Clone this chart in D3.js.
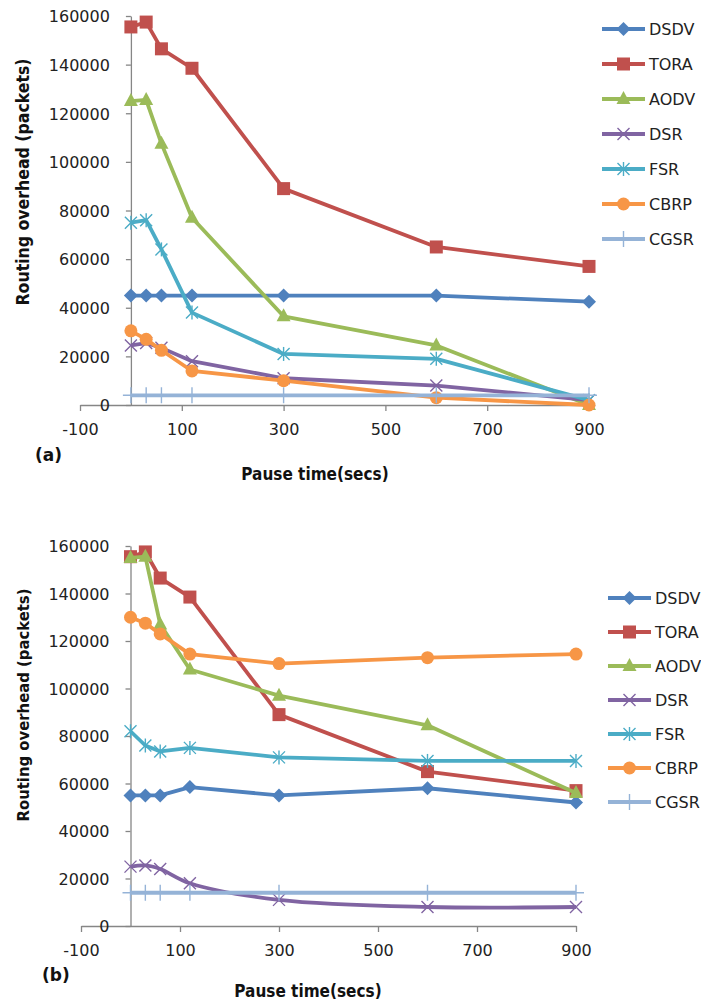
<!DOCTYPE html>
<html>
<head>
<meta charset="utf-8">
<script src="https://cdnjs.cloudflare.com/ajax/libs/d3/7.8.5/d3.min.js"></script>
<style>
  body { margin: 0; background: #fff; }
  .tick text { font-family: "DejaVu Sans", sans-serif; font-size: 16px; fill: #222; }
  .axis path, .axis line { stroke: #868686; stroke-width: 1.3; }
  .title { font-family: "DejaVu Sans Condensed", "DejaVu Sans", sans-serif; font-weight: bold; fill: #111; }
  .legend text { font-family: "DejaVu Sans", sans-serif; font-size: 16px; fill: #222; }
</style>
</head>
<body>
<script>
// pause times (secs) shared by every series
const pauseTimes = [0, 30, 60, 120, 300, 600, 900];
const protocols = ["DSDV", "TORA", "AODV", "DSR", "FSR", "CBRP", "CGSR"];
const xTicks = [-100, 100, 300, 500, 700, 900];
const yTicks = [0, 20000, 40000, 60000, 80000, 100000, 120000, 140000, 160000];

// panel (a)
const dsdvA = [45000, 45000, 45000, 45000, 45000, 45000, 42500];
const toraA = [155500, 157500, 146500, 138500, 89000, 65000, 57000];
const aodvA = [125000, 125500, 107500, 77000, 36500, 24500, 0];
const dsrA  = [24500, 25500, 23500, 18000, 11000, 8000, 2000];
const fsrA  = [75000, 76000, 64000, 38000, 21000, 19000, 2000];
const cbrpA = [30500, 27000, 22500, 14000, 10000, 3000, 0];
const cgsrA = [4000, 4000, 4000, 4000, 4000, 4000, 4000];

// panel (b)
const dsdvB = [55000, 55000, 55000, 58500, 55000, 58000, 52000];
const toraB = [155500, 157500, 146500, 138500, 89000, 65000, 57000];
const aodvB = [155000, 155500, 127000, 108000, 97000, 84500, 56000];
const dsrB  = [25000, 25500, 24000, 18000, 11000, 8000, 8000];
const fsrB  = [82000, 76000, 73500, 75000, 71000, 69500, 69500];
const cbrpB = [130000, 127500, 123000, 114500, 110500, 113000, 114500];
const cgsrB = [14000, 14000, 14000, 14000, 14000, 14000, 14000];

const colors = ["#4F81BD", "#C0504D", "#9BBB59", "#8064A2", "#4BACC6", "#F79646", "#95B3D7"];
const markers = ["diamond", "square", "triangle", "cross", "star", "circle", "plus"];

var svg = d3.select("body").append("svg")
    .attr("width", 701)
    .attr("height", 1005);

function drawMarker(g, type, color) {
  if (type == "diamond") {
    g.append("path").attr("d", "M0,-7L7,0L0,7L-7,0Z").attr("fill", color);
  } else if (type == "square") {
    g.append("rect").attr("x", -6.5).attr("y", -6.5).attr("width", 13).attr("height", 13).attr("fill", color);
  } else if (type == "triangle") {
    g.append("path").attr("d", "M0,-8L7,5L-7,5Z").attr("fill", color);
  } else if (type == "circle") {
    g.append("circle").attr("r", 6.5).attr("fill", color);
  } else if (type == "cross" || type == "star") {
    g.append("path").attr("d", "M-6,-6L6,6M-6,6L6,-6")
      .attr("stroke", color).attr("stroke-width", 1.4).attr("fill", "none");
    if (type == "star") {
      g.append("path").attr("d", "M0,-7L0,7").attr("stroke", color).attr("stroke-width", 1.4);
    }
  } else if (type == "plus") {
    g.append("path").attr("d", "M0,-8L0,8M-8,0L8,0")
      .attr("stroke", color).attr("stroke-width", 1.4);
  }
}

function drawPanel(cfg) {
  var x = d3.scaleLinear().domain([-100, 900]).range(cfg.xRange);
  var y = d3.scaleLinear().domain([0, 160000]).range(cfg.yRange);

  // x axis sits at y=0, y axis crosses at x=0
  svg.append("g")
    .attr("class", "axis")
    .attr("transform", "translate(0," + y(0) + ")")
    .call(d3.axisBottom(x).tickValues(xTicks).tickSize(6).tickSizeOuter(0).tickPadding(13).tickFormat(function (d) { return String(d); }));

  svg.append("g")
    .attr("class", "axis")
    .attr("transform", "translate(" + x(0) + ",0)")
    .call(d3.axisLeft(y).tickValues(yTicks).tickSize(5).tickSizeOuter(0).tickPadding(16).tickFormat(function (d) { return String(d); }))
    .selectAll(".tick text").attr("dy", "0.36em");

  svg.selectAll(".axis .tick text").attr("font-family", null).attr("font-size", null);

  cfg.series.forEach(function (vals, i) {
    var pts = pauseTimes.map(function (t, j) { return [t, vals[j]]; });
    var line = d3.line()
      .x(function (d) { return x(d[0]); })
      .y(function (d) { return y(d[1]); });
    if (cfg.smooth == i) line.curve(d3.curveCatmullRom.alpha(0.5));
    svg.append("path")
      .datum(pts)
      .attr("fill", "none")
      .attr("stroke", colors[i])
      .attr("stroke-width", 3.8)
      .attr("stroke-linejoin", "round")
      .attr("d", line);
    pts.forEach(function (p) {
      var m = svg.append("g").attr("transform", "translate(" + x(p[0]) + "," + y(p[1]) + ")");
      drawMarker(m, markers[i], colors[i]);
    });
  });

  // legend
  var lg = svg.append("g").attr("class", "legend");
  protocols.forEach(function (name, i) {
    var yy = cfg.legendY + i * cfg.legendStep;
    lg.append("line")
      .attr("x1", cfg.legendX).attr("x2", cfg.legendX + 43)
      .attr("y1", yy).attr("y2", yy)
      .attr("stroke", colors[i]).attr("stroke-width", 3.8);
    var m = lg.append("g").attr("transform", "translate(" + (cfg.legendX + 21.5) + "," + yy + ")");
    drawMarker(m, markers[i], colors[i]);
    lg.append("text")
      .attr("x", cfg.legendX + 47).attr("y", yy).attr("dy", "0.36em")
      .text(name);
  });

  svg.append("text")
    .attr("class", "title")
    .attr("transform", "translate(" + cfg.yTitle[0] + "," + cfg.yTitle[1] + ") rotate(-90)")
    .attr("text-anchor", "middle")
    .attr("dy", "0.36em")
    .style("font-size", cfg.yTitleSize + "px")
    .text("Routing overhead (packets)");

  svg.append("text")
    .attr("class", "title")
    .attr("x", cfg.xTitle[0]).attr("y", cfg.xTitle[1])
    .attr("text-anchor", "middle")
    .attr("dy", "0.36em")
    .style("font-size", "17px")
    .text("Pause time(secs)");

  svg.append("text")
    .attr("class", "title")
    .attr("x", cfg.tag[0]).attr("y", cfg.tag[1])
    .attr("dy", "0.36em")
    .style("font-size", "17px")
    .style("font-family", "DejaVu Sans")
    .text(cfg.label);
}

drawPanel({
  series: [dsdvA, toraA, aodvA, dsrA, fsrA, cbrpA, cgsrA],
  xRange: [80, 589], yRange: [405, 16],
  legendX: 602, legendY: 29, legendStep: 35,
  yTitle: [23, 182], yTitleSize: 17.5,
  xTitle: [315, 474], tag: [35, 455], label: "(a)",
  smooth: -1
});

drawPanel({
  series: [dsdvB, toraB, aodvB, dsrB, fsrB, cbrpB, cgsrB],
  xRange: [81, 576], yRange: [926, 546],
  legendX: 608, legendY: 598, legendStep: 34,
  yTitle: [23, 705], yTitleSize: 16.5,
  xTitle: [308, 991], tag: [42, 975], label: "(b)",
  smooth: 3
});
</script>
</body>
</html>
